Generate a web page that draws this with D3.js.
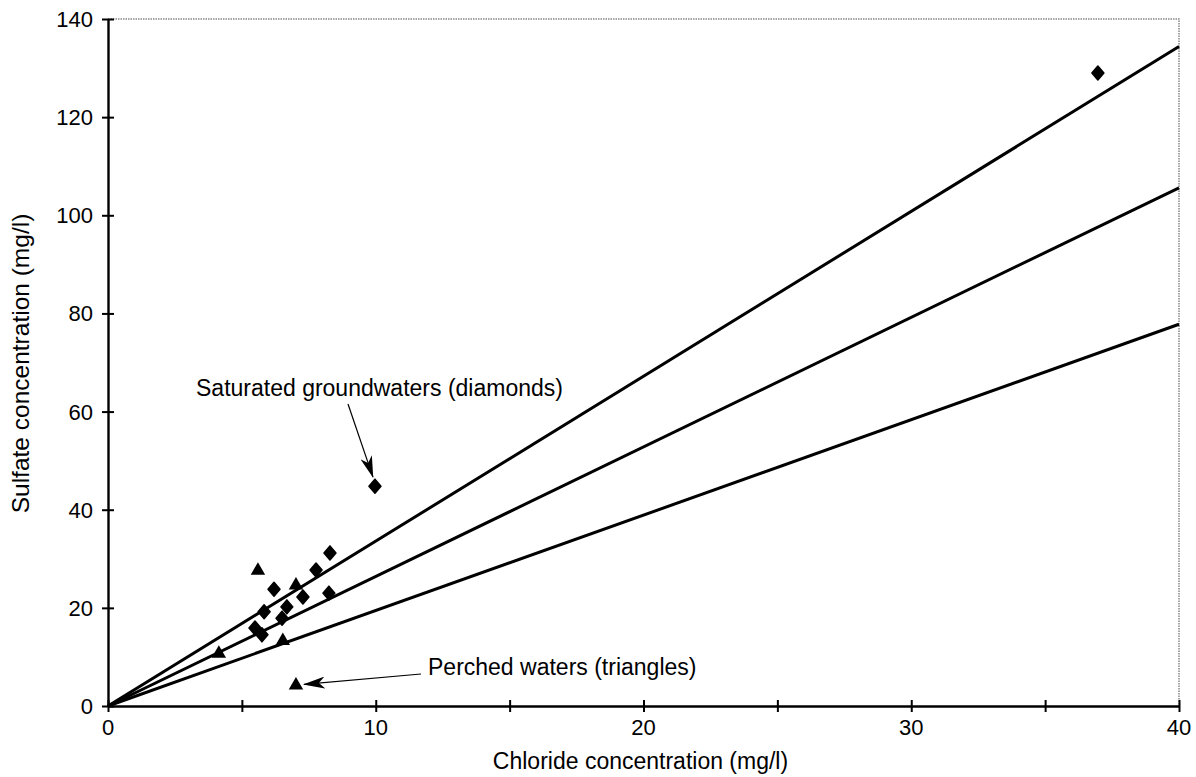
<!DOCTYPE html>
<html>
<head>
<meta charset="utf-8">
<script src="https://cdnjs.cloudflare.com/ajax/libs/d3/7.8.5/d3.min.js"></script>
<style>
  body { margin: 0; background: #fff; }
  svg { font-family: "Liberation Sans", Arial, sans-serif; }
</style>
</head>
<body>
<div class="chart"></div>
<script>
'use strict';

// saturated groundwaters (diamonds): [chloride, sulfate]
var diamonds = [
  [9.97, 44.8], [36.97, 129.0], [8.29, 31.2], [7.77, 27.7], [6.2, 23.8],
  [7.28, 22.2], [8.25, 23.0], [6.68, 20.2], [5.83, 19.2], [6.5, 17.9],
  [5.49, 15.9], [5.75, 14.5]
];
// perched waters (triangles)
var triangles = [
  [5.6, 27.6], [7.02, 24.6], [6.53, 13.3], [4.14, 10.7], [7.02, 4.2]
];
// reference lines through origin (sulfate / chloride slope)
var slopes = [3.36, 2.64, 1.945];

var xTicks = [0, 5, 10, 15, 20, 25, 30, 35, 40];
var xLabels = [0, 10, 20, 30, 40];
var yTicks = [0, 20, 40, 60, 80, 100, 120, 140];

(function () {
  var width = 1196, height = 777;
  var margin = { left: 108, right: 17, top: 19, bottom: 71 };

  var x = d3.scaleLinear().domain([0, 40]).range([margin.left, width - margin.right]);
  var y = d3.scaleLinear().domain([0, 140]).range([height - margin.bottom, margin.top]);

  var svg = d3.select('.chart').append('svg')
      .attr('width', width)
      .attr('height', height);

  var defs = svg.append('defs');
  defs.append('marker')
      .attr('id', 'arrow')
      .attr('viewBox', '0 0 22 12')
      .attr('refX', 21).attr('refY', 6)
      .attr('markerWidth', 22).attr('markerHeight', 12)
      .attr('markerUnits', 'userSpaceOnUse')
      .attr('orient', 'auto')
    .append('path')
      .attr('d', 'M0,0 L22,6 L0,12 L6,6 Z')
      .attr('fill', '#000');

  // frame (top & right dotted)
  svg.append('path')
      .attr('d', 'M' + x(0) + ',' + y(140) + 'H' + x(40) + 'V' + y(0))
      .attr('fill', 'none')
      .attr('stroke', '#888')
      .attr('stroke-width', 1.5)
      .attr('stroke-dasharray', '1.5,1');

  // axes
  var xAxis = svg.append('g')
      .attr('transform', 'translate(0,' + y(0) + ')')
      .call(d3.axisBottom(x).tickValues(xTicks).tickSize(0).tickFormat(''));
  xAxis.select('.domain').attr('stroke-width', 2.4);
  xAxis.selectAll('.tick line').remove();
  xAxis.selectAll('.tick').append('line')
      .attr('y1', -6).attr('y2', 6)
      .attr('stroke', '#000').attr('stroke-width', 2);

  var yAxis = svg.append('g')
      .attr('transform', 'translate(' + x(0) + ',0)')
      .call(d3.axisLeft(y).tickValues(yTicks).tickSize(0).tickFormat(''));
  yAxis.select('.domain').attr('stroke-width', 2.4);
  yAxis.selectAll('.tick line').remove();
  yAxis.selectAll('.tick').append('line')
      .attr('x1', -6).attr('x2', 6)
      .attr('stroke', '#000').attr('stroke-width', 2);

  svg.append('g').selectAll('text')
      .data(xLabels)
    .enter().append('text')
      .attr('x', function (d) { return x(d); })
      .attr('y', y(0) + 29)
      .attr('text-anchor', 'middle')
      .attr('font-size', 22)
      .text(function (d) { return d; });

  svg.append('g').selectAll('text')
      .data(yTicks)
    .enter().append('text')
      .attr('x', x(0) - 15)
      .attr('y', function (d) { return y(d) + 8; })
      .attr('text-anchor', 'end')
      .attr('font-size', 22)
      .text(function (d) { return d; });

  svg.append('text')
      .attr('x', (x(0) + x(40)) / 2 - 3)
      .attr('y', 769)
      .attr('text-anchor', 'middle')
      .attr('font-size', 23)
      .text('Chloride concentration (mg/l)');

  svg.append('text')
      .attr('transform', 'translate(29,' + (y(70) + 1) + ') rotate(-90)')
      .attr('text-anchor', 'middle')
      .attr('font-size', 24.5)
      .text('Sulfate concentration (mg/l)');

  // ratio lines
  svg.append('g').selectAll('line')
      .data(slopes)
    .enter().append('line')
      .attr('x1', x(0)).attr('y1', y(0))
      .attr('x2', x(40))
      .attr('y2', function (d) { return y(40 * d); })
      .attr('stroke', '#000')
      .attr('stroke-width', 3);

  // points
  var diamond = 'M0,-7L6,0L0,7L-6,0Z';
  svg.append('g').selectAll('path')
      .data(diamonds)
    .enter().append('path')
      .attr('transform', function (d) { return 'translate(' + x(d[0]) + ',' + y(d[1]) + ')'; })
      .attr('d', diamond)
      .attr('stroke', '#000')
      .attr('stroke-width', 1.5)
      .attr('stroke-linejoin', 'round')
      .attr('fill', '#000');

  var tri = d3.symbol().type(d3.symbolTriangle).size(90);
  svg.append('g').selectAll('path')
      .data(triangles)
    .enter().append('path')
      .attr('transform', function (d) { return 'translate(' + x(d[0]) + ',' + y(d[1]) + ')'; })
      .attr('d', tri)
      .attr('fill', '#000');

  // annotations
  svg.append('text')
      .attr('x', 196).attr('y', 396)
      .attr('font-size', 23)
      .text('Saturated groundwaters (diamonds)');
  svg.append('line')
      .attr('x1', 348).attr('y1', 404)
      .attr('x2', x(9.97) - 2).attr('y2', y(44.8) - 9)
      .attr('stroke', '#000').attr('stroke-width', 1.2)
      .attr('marker-end', 'url(#arrow)');

  svg.append('text')
      .attr('x', 428).attr('y', 675)
      .attr('font-size', 23)
      .text('Perched waters (triangles)');
  svg.append('line')
      .attr('x1', 421).attr('y1', 674)
      .attr('x2', x(7.02) + 8).attr('y2', y(4.2) - 1)
      .attr('stroke', '#000').attr('stroke-width', 1.2)
      .attr('marker-end', 'url(#arrow)');
})();
</script>
</body>
</html>
